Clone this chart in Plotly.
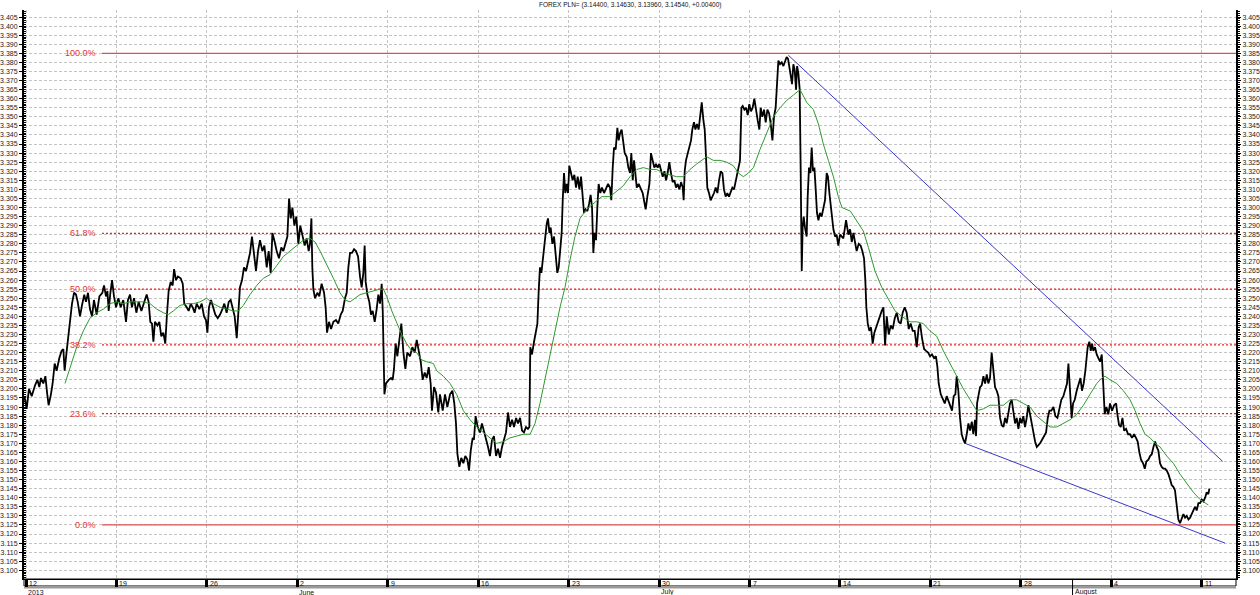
import pandas as pd
import plotly.graph_objects as go

start = pd.Timestamp("2013-05-12")

# ---- price (close line): day offset from 12 May 2013 ----
price_day_may_jun = [
    -0.10,0.05,0.23,0.44,0.70,0.88,1.03,1.16,1.34,1.50,
    1.63,1.75,1.93,2.06,2.22,2.37,2.58,2.76,2.89,2.99,
    3.15,3.30,3.46,3.56,3.72,3.87,4.00,4.18,4.33,4.51,
    4.64,4.80,4.95,5.11,5.26,5.47,5.68,5.91,6.04,6.19,
    6.30,6.40,6.53,6.66,6.81,6.97,7.15,7.33,7.53,7.74,
    7.89,8.05,8.20,8.36,8.54,8.72,8.93,9.13,9.34,9.49,
    9.62,9.75,9.86,9.98,10.17,10.32,10.47,10.63,10.78,10.91,
    11.04,11.20,11.35,11.46,11.61,11.76,11.97,12.13,12.25,12.44,
    12.59,12.75,12.90,13.05,13.21,13.42,13.60,13.78,13.93,14.04,
    14.16,14.32,14.50,14.65,14.84,15.02,15.20,15.35,15.53,15.69,
    15.84,16.00,16.15,16.31,16.43,16.56,16.72,16.87,17.03,17.18,
    17.34,17.49,17.65,17.80,17.96,18.11,18.29,18.45,18.63,18.78,
    18.94,19.07,19.25,19.40,19.58,19.76,19.92,20.10,20.23,20.36,
    20.49,20.62,20.77,20.92,21.08,21.23,21.41,21.57,21.72,21.88,
    21.98,22.09,22.16,22.24,22.37,22.55,22.70,22.88,23.07,23.19,
    23.30,23.45,23.61,23.79,23.99,24.17,24.36,24.51,24.69,24.82,
    24.95,25.08,25.23,25.39,25.54,25.70,25.85,25.98,26.11,26.21,
    26.29,26.42,26.57,26.70,26.83,26.99,27.14,27.27,27.40,27.53,
    27.61,27.66,27.74,27.86,28.07,28.25,28.38,28.48,28.61,28.74,
    28.90,29.05,29.21,29.36,29.51,29.72,29.90,30.08,30.24,30.39,
    30.55,30.70,30.86,31.01,31.17,31.32,31.42,31.58,31.73,31.91]
price_val_may_jun = [
    3.195,3.189,3.200,3.196,3.202,3.205,3.201,3.206,3.203,3.207,
    3.198,3.191,3.197,3.203,3.214,3.210,3.217,3.221,3.222,3.210,
    3.221,3.231,3.238,3.247,3.253,3.252,3.248,3.240,3.246,3.252,
    3.248,3.253,3.244,3.240,3.249,3.241,3.251,3.253,3.257,3.251,
    3.254,3.243,3.253,3.260,3.251,3.245,3.250,3.245,3.249,3.237,
    3.249,3.252,3.245,3.250,3.242,3.248,3.243,3.248,3.252,3.248,
    3.237,3.236,3.226,3.237,3.235,3.237,3.229,3.231,3.225,3.241,
    3.254,3.259,3.257,3.266,3.260,3.262,3.261,3.258,3.247,3.245,
    3.243,3.247,3.245,3.242,3.247,3.244,3.247,3.240,3.238,3.231,
    3.245,3.249,3.245,3.241,3.239,3.241,3.244,3.247,3.242,3.248,
    3.249,3.245,3.240,3.228,3.245,3.256,3.260,3.267,3.265,3.270,
    3.275,3.284,3.275,3.265,3.276,3.282,3.276,3.279,3.267,3.276,
    3.264,3.286,3.281,3.276,3.272,3.278,3.276,3.280,3.284,3.305,
    3.294,3.300,3.290,3.295,3.280,3.290,3.284,3.279,3.283,3.276,
    3.280,3.294,3.267,3.255,3.250,3.253,3.251,3.258,3.253,3.245,
    3.231,3.237,3.233,3.237,3.238,3.236,3.241,3.243,3.250,3.253,
    3.267,3.275,3.275,3.277,3.276,3.273,3.262,3.256,3.264,3.279,
    3.259,3.252,3.248,3.241,3.243,3.237,3.244,3.252,3.247,3.258,
    3.243,3.221,3.197,3.203,3.205,3.206,3.205,3.211,3.225,3.218,
    3.227,3.236,3.220,3.211,3.220,3.218,3.223,3.220,3.227,3.221,
    3.215,3.205,3.209,3.206,3.212,3.203,3.188,3.201,3.198,3.187]

price_day_jun_jul = [
    32.04,32.25,32.43,32.61,32.82,33.00,33.15,33.28,33.39,33.54,
    33.69,33.85,34.00,34.16,34.29,34.42,34.57,34.67,34.80,34.96,
    35.14,35.29,35.45,35.60,35.76,35.91,36.07,36.22,36.38,36.53,
    36.69,36.84,37.00,37.15,37.31,37.46,37.62,37.77,37.93,38.08,
    38.24,38.39,38.54,38.70,38.85,38.96,39.03,39.16,39.32,39.47,
    39.58,39.68,39.78,39.89,39.99,40.09,40.20,40.30,40.40,40.51,
    40.61,40.74,40.87,41.00,41.12,41.23,41.33,41.46,41.54,41.64,
    41.74,41.85,41.95,42.05,42.18,42.31,42.44,42.57,42.70,42.83,
    42.96,43.09,43.19,43.32,43.45,43.58,43.70,43.81,43.91,44.01,
    44.12,44.22,44.32,44.45,44.58,44.74,44.89,45.05,45.20,45.30,
    45.41,45.51,45.64,45.77,45.87,45.98,46.10,46.23,46.34,46.49,
    46.62,46.75,46.85,46.96,47.06,47.16,47.27,47.42,47.58,47.73,
    47.83,47.96,48.09,48.25,48.37,48.50,48.63,48.76,48.89,49.02,
    49.15,49.28,49.41,49.54,49.66,49.79,49.92,50.05,50.18,50.31,
    50.44,50.57,50.70,50.83,50.90,50.98,51.08,51.21,51.34,51.47,
    51.57,51.70,51.81,51.93,52.06,52.19,52.30,52.43,52.53,52.63,
    52.73,52.86,52.99,53.12,53.25,53.38,53.51,53.64,53.77,53.90,
    54.02,54.15,54.28,54.41,54.54,54.67,54.80,54.93,55.03,55.13,
    55.26,55.37,55.47,55.60,55.73,55.86,55.98,56.11,56.24,56.37,
    56.50,56.63,56.76,56.86,56.99,57.12,57.25,57.38,57.51,57.64,
    57.77,57.89,58.02,58.13,58.23,58.36,58.49,58.62,58.75,58.87,
    58.98,59.08,59.19,59.29,59.39,59.49,59.60,59.68,59.78,59.88,
    59.96,60.04,60.11,60.19,60.29,60.42,60.50,60.60,60.71,60.81,
    60.91,61.02,61.12,61.22,61.33,61.45,61.58,61.71,61.84,61.97,
    62.07,62.18,62.28,62.38,62.49,62.62,62.74,62.87]
price_val_jun_jul = [
    3.197,3.188,3.197,3.190,3.197,3.199,3.192,3.181,3.164,3.157,
    3.162,3.159,3.163,3.161,3.155,3.166,3.173,3.172,3.185,3.179,
    3.176,3.181,3.177,3.172,3.168,3.163,3.172,3.174,3.163,3.167,
    3.162,3.168,3.172,3.176,3.187,3.179,3.183,3.179,3.184,3.181,
    3.184,3.177,3.176,3.179,3.178,3.179,3.223,3.219,3.226,3.231,
    3.236,3.254,3.267,3.264,3.271,3.275,3.282,3.291,3.294,3.286,
    3.289,3.280,3.284,3.275,3.264,3.267,3.275,3.286,3.304,3.319,
    3.308,3.313,3.308,3.323,3.319,3.315,3.318,3.311,3.317,3.310,
    3.317,3.306,3.297,3.299,3.298,3.302,3.307,3.300,3.275,3.286,
    3.282,3.300,3.313,3.308,3.311,3.308,3.311,3.313,3.311,3.304,
    3.322,3.333,3.332,3.344,3.337,3.341,3.343,3.335,3.330,3.328,
    3.322,3.319,3.330,3.315,3.326,3.319,3.311,3.313,3.310,3.308,
    3.304,3.299,3.306,3.313,3.330,3.326,3.322,3.324,3.322,3.324,
    3.320,3.317,3.320,3.315,3.319,3.325,3.319,3.314,3.315,3.311,
    3.313,3.310,3.314,3.311,3.304,3.320,3.326,3.330,3.333,3.337,
    3.343,3.347,3.343,3.346,3.343,3.351,3.358,3.348,3.343,3.328,
    3.311,3.308,3.304,3.306,3.308,3.311,3.308,3.315,3.320,3.319,
    3.310,3.306,3.308,3.306,3.309,3.311,3.310,3.315,3.319,3.322,
    3.326,3.355,3.356,3.354,3.355,3.351,3.357,3.353,3.355,3.360,
    3.353,3.348,3.343,3.355,3.350,3.354,3.347,3.354,3.352,3.346,
    3.337,3.350,3.355,3.368,3.381,3.379,3.380,3.378,3.381,3.383,
    3.382,3.378,3.372,3.368,3.379,3.376,3.365,3.378,3.374,3.365,
    3.319,3.265,3.289,3.295,3.289,3.284,3.306,3.322,3.319,3.333,
    3.320,3.322,3.310,3.297,3.293,3.297,3.295,3.300,3.304,3.319,
    3.317,3.308,3.302,3.293,3.288,3.284,3.285,3.279]

price_day_jul_aug = [
    63.00,63.26,63.47,63.65,63.78,63.91,64.04,64.16,64.29,64.45,
    64.60,64.73,64.86,64.96,65.04,65.15,65.27,65.40,65.53,65.66,
    65.79,65.97,66.10,66.23,66.36,66.49,66.62,66.77,66.93,67.08,
    67.24,67.39,67.54,67.70,67.85,68.01,68.16,68.32,68.47,68.63,
    68.78,68.94,69.09,69.20,69.35,69.51,69.66,69.82,69.97,70.12,
    70.28,70.43,70.54,70.64,70.80,70.95,71.11,71.26,71.41,71.57,
    71.67,71.80,71.93,72.03,72.16,72.29,72.42,72.55,72.68,72.81,
    72.94,73.07,73.20,73.32,73.45,73.53,73.61,73.71,73.84,73.97,
    74.10,74.23,74.36,74.48,74.61,74.74,74.87,75.00,75.13,75.26,
    75.39,75.52,75.65,75.78,75.90,76.03,76.16,76.29,76.42,76.55,
    76.68,76.81,76.94,77.06,77.19,77.32,77.45,77.58,77.71,77.84,
    77.97,78.10,78.23,78.36,78.48,78.64,78.79,78.95,79.08,79.21,
    79.36,79.52,79.67,79.83,79.98,80.13,80.29,80.44,80.57,80.68,
    80.78,80.86,80.93,81.04,81.17,81.32,81.48,81.61,81.73,81.86,
    81.99,82.07,82.17,82.30,82.41,82.51,82.61,82.74,82.87,83.00,
    83.13,83.26,83.33,83.41,83.49,83.62,83.77,83.90,84.06,84.21,
    84.37,84.47,84.60,84.73,84.86,84.99,85.14,85.30,85.45,85.60,
    85.76,85.91,86.04,86.17,86.30,86.46,86.59,86.71,86.87,87.00,
    87.13,87.26,87.39,87.51,87.64,87.77,87.90,88.03,88.16,88.29,
    88.42,88.55,88.67,88.80,88.93,89.01,89.09,89.19,89.32,89.45,
    89.58,89.71,89.84,89.97,90.10,90.22,90.35,90.48,90.61,90.74,
    90.87,91.00,91.13,91.26,91.38,91.51,91.59]
price_val_jul_aug = [
    3.285,3.283,3.293,3.285,3.288,3.281,3.286,3.281,3.276,3.280,
    3.279,3.276,3.272,3.260,3.245,3.236,3.232,3.234,3.225,3.231,
    3.234,3.237,3.240,3.243,3.245,3.224,3.240,3.230,3.235,3.233,
    3.239,3.242,3.237,3.236,3.242,3.245,3.242,3.233,3.236,3.232,
    3.232,3.223,3.234,3.236,3.228,3.222,3.221,3.220,3.218,3.219,
    3.217,3.218,3.212,3.203,3.197,3.194,3.192,3.196,3.193,3.191,
    3.188,3.196,3.197,3.207,3.199,3.184,3.175,3.172,3.170,3.175,
    3.181,3.177,3.182,3.175,3.183,3.174,3.192,3.196,3.201,3.202,
    3.207,3.203,3.208,3.203,3.206,3.220,3.210,3.201,3.199,3.196,
    3.184,3.180,3.179,3.184,3.181,3.188,3.192,3.194,3.187,3.181,
    3.184,3.178,3.184,3.181,3.185,3.179,3.184,3.191,3.186,3.180,
    3.176,3.171,3.168,3.169,3.170,3.172,3.174,3.176,3.184,3.188,
    3.188,3.190,3.185,3.184,3.189,3.194,3.196,3.200,3.203,3.214,
    3.201,3.188,3.184,3.192,3.194,3.199,3.203,3.206,3.199,3.203,
    3.210,3.218,3.223,3.226,3.221,3.225,3.221,3.223,3.219,3.217,
    3.215,3.219,3.210,3.196,3.186,3.190,3.186,3.192,3.188,3.191,
    3.192,3.186,3.180,3.179,3.184,3.177,3.178,3.175,3.175,3.173,
    3.175,3.173,3.171,3.165,3.161,3.159,3.156,3.160,3.161,3.163,
    3.164,3.168,3.171,3.168,3.166,3.159,3.157,3.156,3.156,3.155,
    3.153,3.150,3.147,3.146,3.144,3.139,3.133,3.128,3.126,3.129,
    3.131,3.129,3.130,3.128,3.129,3.131,3.133,3.135,3.133,3.137,
    3.137,3.139,3.138,3.140,3.143,3.142,3.145]

# ---- green moving-average line ----
ma_day = [
    3.02,3.41,3.92,4.44,4.95,5.47,5.99,6.50,7.02,7.53,
    8.05,8.57,9.08,9.60,10.11,10.63,11.02,11.40,11.92,12.44,
    12.95,13.47,13.98,14.50,15.02,15.53,16.05,16.43,16.82,17.34,
    17.85,18.37,18.89,19.40,19.92,20.43,20.95,21.47,21.98,22.37,
    22.76,23.27,23.79,24.30,24.69,25.08,25.46,25.85,26.37,26.88,
    27.40,27.66,27.92,28.31,28.70,29.08,29.46,29.85,30.24,30.62,
    31.01,31.53,31.79,32.30,32.82,33.33,33.85,34.37,34.88,35.40,
    35.91,36.43,36.95,37.46,37.98,38.49,39.01,39.40,39.78,40.17,
    40.56,40.94,41.33,41.72,42.10,42.49,42.88,43.39,43.91,44.56,
    45.20,45.72,46.23,46.75,47.27,47.78,48.30,48.81,49.33,49.85,
    50.36,50.88,51.39,51.91,52.43,52.68,53.20,53.72,54.23,54.75,
    55.13,55.52,55.91,56.30,56.81,57.33,57.84,58.36,58.87,59.39,
    59.91,60.42,60.94,61.33,61.71,62.10,62.49,62.87,63.15,63.80,
    64.29,64.81,65.20,65.71,66.23,66.75,67.26,67.78,68.42,68.94,
    69.45,69.97,70.49,71.00,71.52,72.03,72.55,73.07,73.58,74.10,
    74.61,75.13,75.65,76.16,76.68,77.19,77.71,78.23,78.74,79.26,
    79.77,80.29,80.81,81.32,81.84,82.35,82.87,83.26,83.51,83.90,
    84.42,84.93,85.45,85.84,86.22,86.61,87.00,87.39,87.77,88.29,
    88.80,89.32,89.84,90.35,90.87,91.26,91.51]
ma_val = [
    3.203,3.212,3.223,3.232,3.239,3.242,3.244,3.247,3.248,3.247,
    3.248,3.248,3.248,3.247,3.244,3.242,3.241,3.243,3.246,3.247,
    3.247,3.248,3.250,3.247,3.245,3.244,3.243,3.243,3.246,3.252,
    3.257,3.261,3.263,3.268,3.273,3.276,3.279,3.282,3.283,3.281,
    3.276,3.269,3.261,3.253,3.249,3.248,3.250,3.252,3.253,3.254,
    3.255,3.255,3.251,3.243,3.236,3.230,3.225,3.221,3.220,3.216,
    3.215,3.214,3.210,3.207,3.203,3.197,3.188,3.183,3.179,3.176,
    3.173,3.170,3.171,3.173,3.174,3.175,3.175,3.181,3.192,3.205,
    3.219,3.232,3.245,3.256,3.271,3.284,3.294,3.299,3.302,3.306,
    3.306,3.309,3.312,3.317,3.321,3.322,3.321,3.321,3.319,3.318,
    3.317,3.317,3.321,3.324,3.327,3.328,3.326,3.326,3.325,3.323,
    3.319,3.317,3.319,3.322,3.332,3.341,3.350,3.355,3.359,3.362,
    3.365,3.358,3.354,3.346,3.335,3.326,3.317,3.306,3.300,3.298,
    3.293,3.287,3.278,3.265,3.256,3.249,3.243,3.240,3.237,3.237,
    3.236,3.232,3.229,3.221,3.214,3.207,3.200,3.194,3.188,3.189,
    3.191,3.191,3.191,3.194,3.194,3.192,3.190,3.185,3.182,3.179,
    3.179,3.181,3.183,3.186,3.191,3.197,3.203,3.206,3.207,3.205,
    3.203,3.199,3.194,3.188,3.181,3.175,3.173,3.170,3.168,3.163,
    3.159,3.153,3.148,3.143,3.139,3.137,3.136]

# ---- Fibonacci retracement levels ----
fib_labels = ["100.0%", "61.8%", "50.0%", "38.2%", "23.6%", "0.0%"]
fib_values = [3.385, 3.2857, 3.255, 3.2243, 3.1864, 3.125]
fib_start_day = 5.88

# ---- trend lines ----
upper_trend_day = [59.0, 92.62]
upper_trend_val = [3.384, 3.160]
lower_trend_day = [72.68, 92.80]
lower_trend_val = [3.170, 3.115]

# ---- axis labels ----
week_labels = ["12", "19", "26", "2", "9", "16", "23", "30", "7", "14", "21", "28", "4", "11"]
month_dates = ["2013-05-12", "2013-06-02", "2013-06-30", "2013-08-01"]
month_labels = ["2013", "June", "July", "August"]
title_text = "FOREX PLN= (3.14400, 3.14630, 3.13960, 3.14540, +0.00400)"

# ---------------------------------------------------------------
price_day = price_day_may_jun + price_day_jun_jul + price_day_jul_aug
price_val = price_val_may_jun + price_val_jun_jul + price_val_jul_aug
assert len(price_day) == len(price_val), (len(price_day), len(price_val))
assert len(ma_day) == len(ma_val), (len(ma_day), len(ma_val))


def to_dates(days):
    return [start + pd.Timedelta(days=d) for d in days]


week_ticks = pd.date_range(start, periods=len(week_labels), freq="7D")
x_min = start + pd.Timedelta(days=-0.155)
x_max = start + pd.Timedelta(days=93.65)
fib_x0 = start + pd.Timedelta(days=fib_start_day)

FONT = "Liberation Sans, Arial, sans-serif"
RED = "#e03434"
GRID = "#c4c4c4"

fig = go.Figure()

# Fibonacci lines
for lab, val in zip(fib_labels, fib_values):
    solid = lab in ("100.0%", "0.0%")
    fig.add_trace(go.Scatter(
        x=[fib_x0, x_max], y=[val, val], mode="lines",
        line=dict(color="#e05050" if solid else "#ea2020",
                  width=1.3 if solid else 1.3,
                  dash="solid" if solid else "2px,2px"),
        hoverinfo="skip", showlegend=False))

# trend lines
fig.add_trace(go.Scatter(x=to_dates(upper_trend_day), y=upper_trend_val, mode="lines",
                         line=dict(color="#3838c8", width=1), hoverinfo="skip", showlegend=False))
fig.add_trace(go.Scatter(x=to_dates(lower_trend_day), y=lower_trend_val, mode="lines",
                         line=dict(color="#3838c8", width=1), hoverinfo="skip", showlegend=False))

# price
fig.add_trace(go.Scatter(x=to_dates(price_day), y=price_val, mode="lines",
                         line=dict(color="#000000", width=1.8), showlegend=False))

# moving average (on the mirrored right axis)
fig.add_trace(go.Scatter(x=to_dates(ma_day), y=ma_val, mode="lines", yaxis="y2",
                         line=dict(color="#2e9a2e", width=1), showlegend=False))

yaxis_common = dict(
    range=[3.0952, 3.4089], dtick=0.005, tick0=3.1, tickformat=".3f",
    ticks="outside", ticklen=3, tickcolor="#000", tickwidth=1,
    showline=True, linecolor="#000", linewidth=2,
    tickfont=dict(family=FONT, size=7, color="#222"),
    zeroline=False, automargin=False,
)

fig.update_layout(
    template="none",
    width=1260, height=595,
    margin=dict(l=24, r=24, t=10, b=16),
    paper_bgcolor="white", plot_bgcolor="white",
    font=dict(family=FONT, size=7, color="#222"),
    showlegend=False,
    xaxis=dict(
        type="date", range=[x_min, x_max],
        tickvals=list(week_ticks), showticklabels=False,
        ticks="outside", ticklen=7, tickwidth=3, tickcolor="#000",
        showgrid=True, gridcolor=GRID, griddash="3px,2px", gridwidth=1,
        showline=True, linecolor="#000", linewidth=1,
        zeroline=False, automargin=False,
    ),
    yaxis=dict(**yaxis_common, side="left",
               showgrid=True, gridcolor=GRID, griddash="3px,2px", gridwidth=1,
               minor=dict(dtick=0.001, ticks="inside", ticklen=2, tickcolor="#000", showgrid=False)),
    yaxis2=dict(**yaxis_common, side="right", overlaying="y", matches="y",
                showgrid=False,
                minor=dict(dtick=0.001, ticks="outside", ticklen=2, tickcolor="#000", showgrid=False)),
)

H = 595 - 10 - 16
# bottom date bar
fig.add_shape(type="rect", xref="paper", yref="paper", x0=0, x1=1,
              y0=-7 / H, y1=0, line=dict(color="#000", width=1), layer="below")
fig.add_shape(type="rect", xref="paper", yref="paper", x0=0, x1=1,
              y0=-9.5 / H, y1=-7 / H, line=dict(width=0), fillcolor="#9a9a9a", layer="below")
# month marker for August (mid-week month start)
fig.add_shape(type="line", xref="x", yref="paper", x0=month_dates[3], x1=month_dates[3],
              y0=-16 / H, y1=0, line=dict(color="#000", width=1))

annotations = []
for d, lab in zip(week_ticks, week_labels):
    annotations.append(dict(x=d, y=0, xref="x", yref="paper", text=lab, showarrow=False,
                            xanchor="left", yanchor="middle", xshift=1, yshift=-4,
                            font=dict(family=FONT, size=7, color="#111")))
for d, lab in zip(month_dates, month_labels):
    annotations.append(dict(x=d, y=0, xref="x", yref="paper", text=lab, showarrow=False,
                            xanchor="left", yanchor="middle", xshift=0, yshift=-13,
                            font=dict(family=FONT, size=7, color="#111")))
for lab, val in zip(fib_labels, fib_values):
    annotations.append(dict(x=fib_x0, y=val, xref="x", yref="y", text=lab, showarrow=False,
                            xanchor="right", yanchor="middle", xshift=-4,
                            font=dict(family=FONT, size=9, color=RED)))
annotations.append(dict(x=0.5, y=1, xref="paper", yref="paper", text=title_text, showarrow=False,
                        xanchor="center", yanchor="middle", yshift=5,
                        font=dict(family=FONT, size=6.5, color="#111")))
fig.update_layout(annotations=annotations)

fig.write_html(
    "out.html",
    config={"displayModeBar": False},
    post_script="document.body.style.margin='0px';document.body.style.padding='0px';",
)
